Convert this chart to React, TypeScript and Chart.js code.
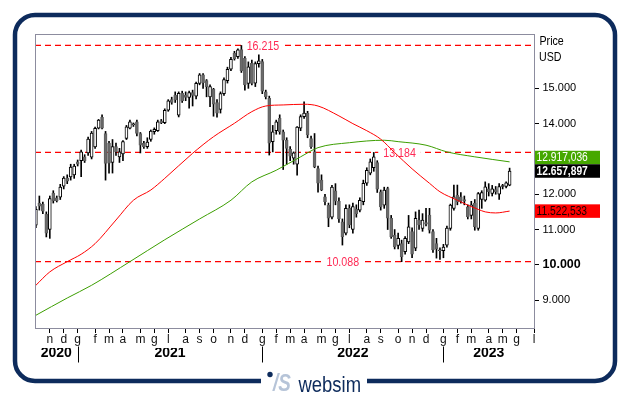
import React, { useEffect, useRef } from 'react';
import { Chart, registerables } from 'chart.js';
Chart.register(...registerables);

const FONT = '"Liberation Sans", Arial, sans-serif';
const NARROW = 0.82; // horizontal squeeze used for the narrow face of the original

// Weekly candles (week 0 = 9 Oct 2020), prices in USD
const openValues = [
  11120,11750,11720,11440,11000,12030,11900,11920,12230,12460,
  12490,12550,12920,12950,13060,13170,13050,13340,13870,14180,
  13720,13450,12900,13350,13060,13140,13580,13870,13970,14050,
  13720,13440,13350,13550,13770,13800,14080,14030,14380,14680,
  14810,14240,14860,14810,14740,14880,14780,15140,15380,15220,
  14760,14970,14600,14400,14850,15220,15540,15990,15900,16100,
  15850,15140,15710,15150,15700,15760,14900,14720,13490,13800,
  14150,13770,13530,13270,13020,12850,13870,14200,14290,13580,
  13200,12730,12400,11930,11690,11350,12100,11800,11220,10900,
  11600,11000,11580,11550,11790,12310,12600,12750,12900,12070,
  11690,12160,11320,10840,10550,10600,10370,10650,10940,10470,
  11270,11030,11200,11410,10940,10600,10400,10400,10560,11030,
  11600,11970,11930,11850,11640,11400,11750,11030,11850,11830,
  12150,12020,12130,12000,12220,12220,12260,
];
const highValues = [
  11650,11950,11780,11500,11950,12100,11950,12280,12500,12550,
  12850,12850,12970,13250,13120,13620,13780,13900,14120,14250,
  13780,13500,13550,13450,13300,13520,13950,14100,14020,14100,
  13750,13500,13600,13820,13880,14100,14120,14420,14680,14750,
  14900,14900,14920,14900,14920,14950,15180,15420,15420,15250,
  15100,15000,14680,14900,15300,15600,15880,16050,16120,16215,
  15900,15750,15800,15750,15950,15820,14950,14780,13950,14100,
  14250,13820,13600,13350,13200,13920,14250,14620,14350,13650,
  13720,12800,12550,12000,11750,12250,12300,11900,11300,11700,
  11700,11750,11700,11900,12400,12750,13000,13184,12950,12120,
  12200,12200,11400,11000,10900,10700,10800,11400,11050,11500,
  11550,11450,11600,11600,11000,10750,10480,10580,11100,11720,
  12260,12260,12050,11950,11700,11800,11850,12050,12100,12350,
  12300,12250,12220,12300,12280,12350,12740,
];
const lowValues = [
  11050,11550,11450,10790,10750,11750,11780,11850,12150,12300,
  12400,12450,12800,12500,12900,13100,13000,13300,13850,13850,
  12400,12600,12600,13100,12900,12950,13550,13850,13920,13650,
  13170,13300,13300,13500,13700,13780,14000,14000,14350,14550,
  14600,14190,14600,14650,14440,14500,14700,15100,15000,14760,
  14480,14210,14180,14300,14800,15150,15500,15800,15850,15450,
  14950,15000,15100,15050,15600,14850,14700,13110,13200,13700,
  13700,12700,12850,12950,12850,12540,13800,14150,13600,13300,
  12750,12060,12100,11700,11080,11300,11700,11200,10560,10850,
  11050,10900,11350,11500,11700,12250,12550,12650,12050,11550,
  11600,11000,10750,10450,10450,10088,10300,10600,10200,10400,
  11000,10950,11100,10900,10350,10190,10150,10200,10500,10980,
  11550,11700,11750,11700,11300,11300,10980,10980,11600,11800,
  11950,11950,12000,11850,12150,12180,12240,
];
const closeValues = [
  11570,11660,11520,10900,11880,11820,11820,12200,12460,12370,
  12770,12800,12850,13200,12950,13560,13730,13870,14100,13870,
  12870,12880,13350,13200,13200,13490,13910,14050,13990,13720,
  13390,13350,13480,13790,13840,14050,14030,14380,14650,14600,
  14670,14860,14650,14740,14880,14800,15140,15380,15160,15050,
  15050,14550,14300,14850,15250,15540,15820,15840,16090,15500,
  15100,15610,15140,15700,15780,14920,14760,13450,13770,14050,
  13770,13530,13300,13080,13170,13900,14200,14300,13680,13350,
  12780,12310,12120,11790,11320,12200,11800,11300,10800,11600,
  11130,11650,11450,11830,12310,12680,12920,13060,12140,11640,
  12120,11320,10800,10510,10750,10230,10750,11080,10300,11320,
  11130,11270,11150,10980,10420,10450,10420,10500,11040,11690,
  11930,11780,11800,11800,11360,11700,11080,12020,12050,12210,
  12070,12150,12070,12220,12230,12320,12657.897,
];

// Moving averages read at sample weeks
const redMAWeeks = [0,4,9,13,17,23,28,33,37,45,51,57,62,66,71,77,81,87,91,95,99,103,108,113,116,121,124,127,129,132,136];
const redMAValues = [9420,9800,10090,10300,10600,11270,11830,12120,12450,13160,13630,14010,14340,14500,14530,14550,14500,14220,14000,13800,13560,13180,12720,12310,12070,11830,11690,11570,11500,11470,11522.533];
const greenMAWeeks = [0,9,16,27,37,47,56,62,69,76,81,90,100,104,112,118,126,136];
const greenMAValues = [8570,9060,9420,10090,10710,11300,11830,12350,12680,13060,13320,13460,13530,13490,13390,13200,13060,12917.036];

// Horizontal levels
const levelValues = [16215, 13184, 10088];
const levelLabelWeeks = [65.2, 104.4, 88.1];

// Axes
const yTickValues = [9000, 10000, 11000, 12000, 14000, 15000];
const monthTickWeeks = [4,8,12,17,21,25,30,34,38,43,47,51,56,60,65,69,73,77,82,86,90,95,99,104,108,112,117,121,125,130,134,138,143];
const monthTickLabels = ['n','d','g','f','m','a','m','g','l','a','s','o','n','d','g','f','m','a','m','g','l','a','s','o','n','d','g','f','m','a','m','g','l'];
const yearLabels = ['2020', '2021', '2022', '2023'];
const yearStartWeeks = [12, 65, 117];

const X_MIN = -0.25;
const X_MAX = 143;
const Y_MIN = 8210;
const Y_MAX = 16540;

const weeks = openValues.map((_, i) => i);
const yearBounds = [X_MIN, ...yearStartWeeks, X_MAX];
const yearLabelWeeks = yearLabels.map((_, i) => (yearBounds[i] + yearBounds[i + 1]) / 2);

function fmtIt(v: number, dec: number) {
  const [i, f] = v.toFixed(dec).split('.');
  const int = i.replace(/\B(?=(\d{3})+(?!\d))/g, '.');
  return f ? int + ',' + f : int;
}

function narrowText(ctx: CanvasRenderingContext2D, text: string, x: number, y: number, font: string,
  align: 'left' | 'center' = 'left', baseline: CanvasTextBaseline = 'alphabetic') {
  ctx.save();
  ctx.font = font;
  ctx.textBaseline = baseline;
  ctx.textAlign = 'left';
  const w = ctx.measureText(text).width * NARROW;
  const x0 = align === 'center' ? x - w / 2 : x;
  ctx.translate(x0, y);
  ctx.scale(NARROW, 1);
  ctx.fillText(text, 0, 0);
  ctx.restore();
  return w;
}

const levelsPlugin = {
  id: 'levels',
  beforeDatasetsDraw(chart: any) {
    const { ctx, chartArea } = chart;
    const ys = chart.scales.y;
    const xs = chart.scales.x;
    ctx.save();
    ctx.beginPath();
    ctx.rect(chartArea.left, chartArea.top, chartArea.right - chartArea.left, chartArea.bottom - chartArea.top);
    ctx.clip();
    levelValues.forEach((v, i) => {
      const y = ys.getPixelForValue(v);
      ctx.strokeStyle = '#ff0000';
      ctx.lineWidth = 1.3;
      ctx.setLineDash([6, 4]);
      ctx.beginPath();
      ctx.moveTo(chartArea.left, y);
      ctx.lineTo(chartArea.right, y);
      ctx.stroke();
      ctx.setLineDash([]);
      const label = fmtIt(v, 0);
      const font = `13px ${FONT}`;
      ctx.font = font;
      const w = ctx.measureText(label).width * NARROW;
      const cx = xs.getPixelForValue(levelLabelWeeks[i]);
      ctx.fillStyle = '#ffffff';
      ctx.fillRect(cx - w / 2 - 5, y - 2, w + 10, 4);
      ctx.fillStyle = '#ff2a55';
      narrowText(ctx, label, cx, y + 0.5, font, 'center', 'middle');
    });
    ctx.restore();
  },
};

const decorPlugin = {
  id: 'decor',
  afterDraw(chart: any) {
    const { ctx, chartArea } = chart;
    const ys = chart.scales.y;
    const xs = chart.scales.x;
    ctx.save();
    // plot frame
    ctx.strokeStyle = '#8c8c9e';
    ctx.lineWidth = 1;
    ctx.strokeRect(Math.round(chartArea.left) + 0.5, Math.round(chartArea.top) + 0.5,
      Math.round(chartArea.right - chartArea.left), Math.round(chartArea.bottom - chartArea.top));

    // year separators
    ctx.strokeStyle = '#000';
    yearStartWeeks.forEach((w) => {
      const x = Math.round(xs.getPixelForValue(w)) + 0.5;
      ctx.beginPath();
      ctx.moveTo(x, 346.5);
      ctx.lineTo(x, 362.5);
      ctx.stroke();
    });

    // Price / USD
    ctx.fillStyle = '#000';
    narrowText(ctx, 'Price', 539.5, 45.3, `13px ${FONT}`);
    narrowText(ctx, 'USD', 539, 61, `13px ${FONT}`);

    // value boxes
    const last = closeValues.length - 1;
    const boxH = 13.5;
    const priceY = ys.getPixelForValue(closeValues[last]);
    const greenV = greenMAValues[greenMAValues.length - 1];
    const redV = redMAValues[redMAValues.length - 1];
    let greenY = ys.getPixelForValue(greenV);
    let redY = ys.getPixelForValue(redV);
    if (Math.abs(greenY - priceY) < boxH) greenY = greenY < priceY ? priceY - boxH : priceY + boxH;
    if (Math.abs(redY - priceY) < boxH) redY = redY < priceY ? priceY - boxH : priceY + boxH;
    const boxes = [
      { y: greenY, v: greenV, bg: '#46a800', fg: '#ffffff', bold: false },
      { y: redY, v: redV, bg: '#ff0000', fg: '#1a0000', bold: false },
      { y: priceY, v: closeValues[last], bg: '#000000', fg: '#ffffff', bold: true },
    ];
    boxes.forEach((b) => {
      ctx.fillStyle = b.bg;
      ctx.fillRect(535, b.y - boxH / 2, 65, boxH);
      ctx.fillStyle = b.fg;
      narrowText(ctx, fmtIt(b.v, 3), 536.5, b.y + 0.5, `${b.bold ? 'bold ' : ''}12.5px ${FONT}`, 'left', 'middle');
    });

    // outer frame
    ctx.strokeStyle = '#0d2b5c';
    ctx.lineWidth = 4.5;
    ctx.beginPath();
    (ctx as any).roundRect(15, 15, 600, 366, 20);
    ctx.stroke();
    ctx.fillStyle = '#ffffff';
    ctx.fillRect(261, 376, 106, 10);

    // logo
    ctx.fillStyle = '#0d2b5c';
    ctx.beginPath();
    ctx.arc(270, 374.5, 2.7, 0, Math.PI * 2);
    ctx.fill();
    ctx.fillStyle = '#b6c4d8';
    narrowText(ctx, '/S', 273, 391, `italic bold 23px ${FONT}`);
    ctx.fillStyle = '#0d2b5c';
    narrowText(ctx, 'websim', 298.5, 391.5, `22.5px ${FONT}`);
    ctx.restore();
  },
};

export default function App() {
  const ref = useRef<HTMLCanvasElement>(null);
  useEffect(() => {
    document.body.style.margin = '0';
    const canvas = ref.current!;
    const isUp = (i: number) => closeValues[i] >= openValues[i];
    const chart = new Chart(canvas, {
      type: 'bar',
      data: {
        datasets: [
          {
            type: 'line',
            label: 'MA red',
            data: redMAWeeks.map((w, i) => ({ x: w, y: redMAValues[i] })),
            borderColor: '#ff0000',
            borderWidth: 1,
            pointRadius: 0,
            cubicInterpolationMode: 'monotone',
            order: 0,
          } as any,
          {
            type: 'line',
            label: 'MA green',
            data: greenMAWeeks.map((w, i) => ({ x: w, y: greenMAValues[i] })),
            borderColor: '#3c9e00',
            borderWidth: 1,
            pointRadius: 0,
            cubicInterpolationMode: 'monotone',
            order: 0,
          } as any,
          {
            type: 'bar',
            label: 'body',
            data: weeks.map((w) => ({ x: w, y: [openValues[w], closeValues[w]] })),
            backgroundColor: (c: any) => (isUp(c.dataIndex) ? '#ffffff' : '#6b6b6b'),
            borderColor: (c: any) => (isUp(c.dataIndex) ? '#000000' : '#5e5e5e'),
            borderWidth: 1,
            borderSkipped: false,
            barThickness: 3,
            minBarLength: 1,
            grouped: false,
            order: 1,
          } as any,
          {
            type: 'bar',
            label: 'wick',
            data: weeks.map((w) => ({ x: w, y: [lowValues[w], highValues[w]] })),
            backgroundColor: '#000000',
            borderWidth: 0,
            barThickness: 1,
            grouped: false,
            order: 2,
          } as any,
        ],
      },
      options: {
        responsive: false,
        animation: false,
        events: [],
        layout: { padding: { left: 35, top: 34, right: 0, bottom: 27 } },
        plugins: { legend: { display: false }, tooltip: { enabled: false } },
        scales: {
          x: {
            type: 'linear',
            position: 'bottom',
            min: X_MIN,
            max: X_MAX,
            offset: false,
            weight: 0,
            afterBuildTicks: (s: any) => { s.ticks = monthTickWeeks.map((v) => ({ value: v })); },
            afterFit: (s: any) => { s.height = 20; },
            grid: { drawOnChartArea: false, drawTicks: true, tickLength: 5, color: '#000', offset: false },
            border: { display: true, color: '#8c8c9e' },
            ticks: {
              autoSkip: false,
              maxRotation: 0,
              padding: -1,
              color: '#111',
              font: { family: FONT, size: 12 },
              callback: (_v: any, i: number) => monthTickLabels[i],
            },
          },
          xYear: {
            type: 'linear',
            position: 'bottom',
            min: X_MIN,
            max: X_MAX,
            offset: false,
            weight: 1,
            afterBuildTicks: (s: any) => { s.ticks = yearLabelWeeks.map((v) => ({ value: v })); },
            afterFit: (s: any) => { s.height = 20; },
            grid: { display: false, drawTicks: false },
            border: { display: false },
            ticks: {
              autoSkip: false,
              maxRotation: 0,
              padding: -3,
              color: '#000',
              font: { family: FONT, size: 14, weight: 'bold' },
              callback: (_v: any, i: number) => yearLabels[i],
            },
          },
          y: {
            type: 'linear',
            position: 'right',
            min: Y_MIN,
            max: Y_MAX,
            beginAtZero: false,
            afterBuildTicks: (s: any) => { s.ticks = yTickValues.map((v) => ({ value: v })); },
            afterFit: (s: any) => { s.width = 95; },
            grid: { drawOnChartArea: false, drawTicks: true, tickLength: 5, color: '#000' },
            border: { display: true, color: '#8c8c9e' },
            ticks: {
              padding: 3.5,
              color: '#000',
              font: (c: any) => (c.tick && c.tick.value === 10000
                ? { family: FONT, size: 12.5, weight: 'bold' }
                : { family: FONT, size: 11 }),
              callback: (v: any) => fmtIt(Number(v), 0),
            },
          },
        },
      } as any,
      plugins: [levelsPlugin, decorPlugin],
    } as any);
    return () => chart.destroy();
  }, []);
  return (
    <div style={{ width: 629, height: 395, background: '#ffffff' }}>
      <canvas ref={ref} width={629} height={395} style={{ display: 'block', width: 629, height: 395 }} />
    </div>
  );
}
